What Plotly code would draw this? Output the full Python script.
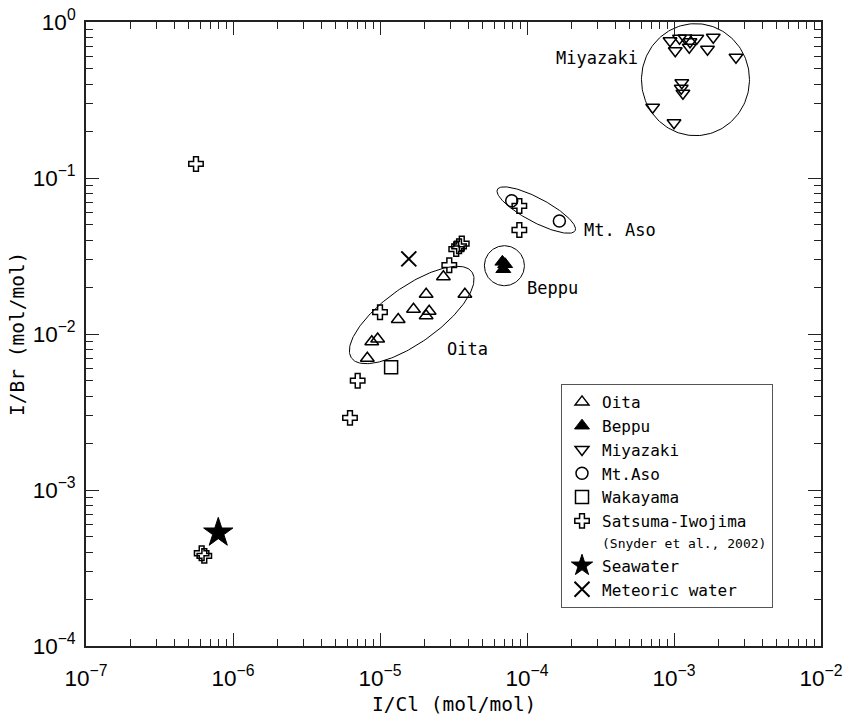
import numpy as np
import plotly.graph_objects as go

# ---------------- data: I/Cl and I/Br (mol/mol) ----------------
oita_icl = [2.70e-5, 2.06e-5, 3.78e-5, 1.69e-5, 2.16e-5, 2.06e-5, 1.33e-5, 9.64e-6, 8.79e-6, 8.20e-6]
oita_ibr = [0.0233, 0.0180, 0.0180, 0.0144, 0.0140, 0.0131, 0.0124, 0.00929, 0.00893, 0.00699]

beppu_icl = [6.8e-5, 7.1e-5, 6.9e-5]
beppu_ibr = [0.029, 0.028, 0.026]

miyazaki_icl = [9.4e-4, 1.09e-3, 1.19e-3, 1.285e-3, 1.43e-3, 1.85e-3, 1.02e-3, 1.27e-3,
                1.69e-3, 2.64e-3, 1.13e-3, 1.12e-3, 1.15e-3, 7.16e-4, 1.0e-3]
miyazaki_ibr = [0.759, 0.786, 0.79, 0.748, 0.786, 0.798, 0.655, 0.689,
                0.668, 0.594, 0.408, 0.376, 0.349, 0.284, 0.226]

aso_icl = [7.87e-5, 1.66e-4]
aso_ibr = [0.0715, 0.0530]

wakayama_icl = [1.19e-5]
wakayama_ibr = [6.12e-3]

satsuma_icl = [5.6e-7, 6.12e-7, 6.38e-7, 6.25e-6, 7.05e-6, 1.0e-5, 2.96e-5,
               3.3e-5, 3.45e-5, 3.6e-5, 8.87e-5, 8.87e-5]
satsuma_ibr = [0.123, 3.93e-4, 3.78e-4, 2.9e-3, 5.02e-3, 0.0138, 0.0276,
               0.035, 0.0365, 0.038, 0.0662, 0.0464]

seawater_icl = [7.94e-7]
seawater_ibr = [5.32e-4]

meteoric_icl = [1.57e-5]
meteoric_ibr = [0.0303]

x_decades = [-7, -2]
y_decades = [-4, 0]

# ---------------- layout geometry ----------------
W, H = 845, 718
ML, MR, MT, MB = 86, 24, 22, 72
PW, PH = W - ML - MR, H - MT - MB
PX_X = PW / (x_decades[1] - x_decades[0])   # pixels per decade
PX_Y = PH / (y_decades[1] - y_decades[0])

MONO = "DejaVu Sans Mono"
SANS = "Liberation Sans, Arial"

# group outlines: centre (data), semi-axes (px), rotation (deg, counter-clockwise)
groups = [
    dict(c=(1.643e-5, 0.01324), a=74, b=28, ang=35.6),
    dict(c=(1.156e-4, 0.0623), a=44, b=12, ang=-28),
    dict(c=(7.02e-5, 0.0274), a=20, b=20, ang=0),
    dict(c=(1.40e-3, 0.427), a=54, b=56, ang=0),
]


def outline(g, n=181):
    t = np.linspace(0, 2 * np.pi, n)
    th = np.radians(g["ang"])
    dx = g["a"] * np.cos(t) * np.cos(th) - g["b"] * np.sin(t) * np.sin(th)
    dy = g["a"] * np.cos(t) * np.sin(th) + g["b"] * np.sin(t) * np.cos(th)
    lx = np.log10(g["c"][0]) + dx / PX_X
    ly = np.log10(g["c"][1]) + dy / PX_Y
    return 10 ** lx, 10 ** ly


fig = go.Figure()

for g in groups:
    ex, ey = outline(g)
    fig.add_trace(go.Scatter(x=ex, y=ey, mode="lines", line=dict(color="black", width=1),
                             showlegend=False, hoverinfo="skip"))

LW = 1.5
series = [
    ("Oita", oita_icl, oita_ibr, dict(symbol="triangle-up-open", size=12,
                                      color="black", line=dict(width=LW, color="black"))),
    ("Beppu", beppu_icl, beppu_ibr, dict(symbol="triangle-up", size=13,
                                         color="black", line=dict(width=1, color="black"))),
    ("Miyazaki", miyazaki_icl, miyazaki_ibr, dict(symbol="triangle-down-open", size=12,
                                                  color="black", line=dict(width=LW, color="black"))),
    ("Mt.Aso", aso_icl, aso_ibr, dict(symbol="circle-open", size=12,
                                      color="black", line=dict(width=LW, color="black"))),
    ("Wakayama", wakayama_icl, wakayama_ibr, dict(symbol="square-open", size=13,
                                                  color="black", line=dict(width=LW, color="black"))),
    ("Satsuma-Iwojima<br><span style='font-size:13px'>(Snyder et al., 2002)</span>",
     satsuma_icl, satsuma_ibr, dict(symbol="cross-open", size=12,
                                    color="black", line=dict(width=LW, color="black"))),
    ("Seawater", seawater_icl, seawater_ibr, dict(symbol="star", size=22,
                                                  color="black", line=dict(width=1, color="black"))),
    ("Meteoric water", meteoric_icl, meteoric_ibr, dict(symbol="x-thin-open", size=15,
                                                        color="black", line=dict(width=2, color="black"))),
]
for name, xs, ys, mk in series:
    fig.add_trace(go.Scatter(x=xs, y=ys, mode="markers", name=name, marker=mk,
                             cliponaxis=False))


def pos(px, py):
    return x_decades[0] + (px - ML) / PX_X, y_decades[1] - (py - MT) / PX_Y


labels = [("Miyazaki", 640, 58, "right"), ("Mt. Aso", 582, 230, "left"),
          ("Beppu", 525, 288, "left"), ("Oita", 445, 349, "left")]
for txt, px, py, anc in labels:
    lx, ly = pos(px, py)
    fig.add_annotation(x=lx, y=ly, xref="x", yref="y", text=txt, showarrow=False,
                       xanchor=anc, yanchor="middle",
                       font=dict(family=MONO, size=17, color="black"))

# axis titles, placed in paper coordinates
title_font = dict(family=MONO, size=19.5, color="black")
fig.add_annotation(x=0.5, y=-(705 - (H - MB)) / PH, xref="paper", yref="paper",
                   text="I/Cl (mol/mol)", showarrow=False, xanchor="center", yanchor="middle",
                   font=title_font)
fig.add_annotation(x=(17 - ML) / PW, y=0.5, xref="paper", yref="paper",
                   text="I/Br (mol/mol)", showarrow=False, textangle=-90,
                   xanchor="center", yanchor="middle", font=title_font)

axis_common = dict(
    type="log", showgrid=False, zeroline=False, mirror="ticks", automargin=False,
    showline=True, linecolor="#222", linewidth=1.5,
    tickmode="linear", dtick=1, exponentformat="power",
    labelalias={"1": "10<sup>0</sup>"},
    ticks="inside", ticklen=13, tickwidth=1.2, tickcolor="#222",
    minor=dict(dtick="D1", ticks="inside", ticklen=7, tickwidth=1,
               tickcolor="#222", showgrid=False),
    tickfont=dict(family=SANS, size=18, color="black"),
)

fig.update_xaxes(**axis_common, range=x_decades, tick0=0, ticklabelstandoff=12)
fig.update_yaxes(**axis_common, range=y_decades, tick0=0, ticklabelstandoff=5)

fig.update_layout(
    width=W, height=H,
    margin=dict(l=ML, r=MR, t=MT, b=MB, autoexpand=False),
    plot_bgcolor="white", paper_bgcolor="white",
    legend=dict(x=(561 - ML) / PW, xanchor="left", y=(H - MB - 608) / PH, yanchor="bottom",
                bordercolor="#555", borderwidth=1, bgcolor="white",
                font=dict(family=MONO, size=16, color="black"),
                valign="top", tracegroupgap=0),
)

fig.write_html("out.html")
